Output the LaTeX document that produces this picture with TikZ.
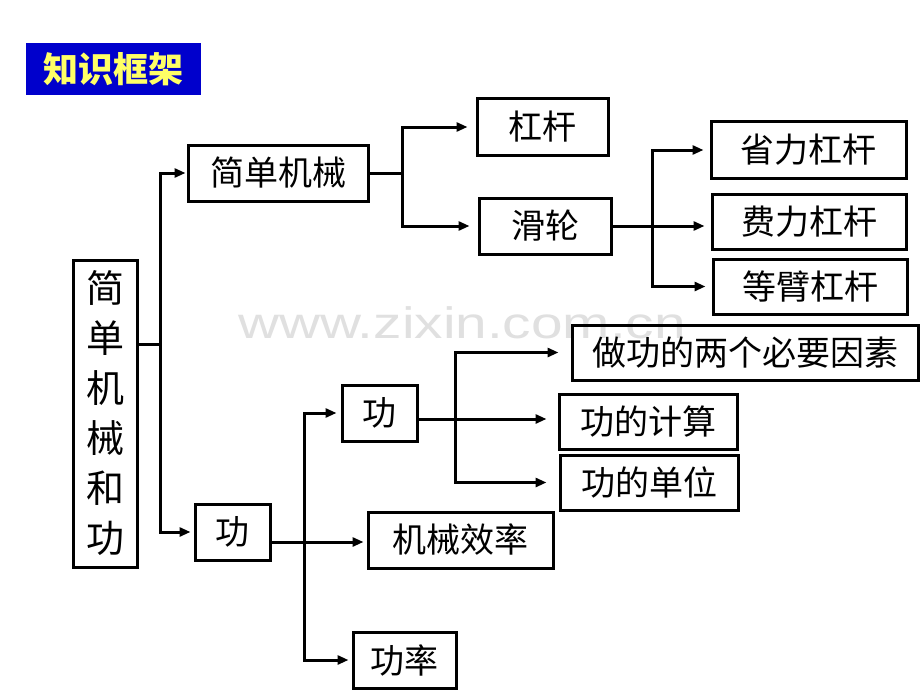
\documentclass[tikz,border=0pt]{standalone}
\usepackage{fontspec}
\setmainfont{Liberation Sans}
\newfontfamily\cjk{Noto Sans CJK SC}
\usetikzlibrary{arrows.meta,calc}
\definecolor{titleblue}{RGB}{0,0,204}
\definecolor{titleyellow}{RGB}{255,255,102}
\definecolor{wmgray}{RGB}{224,224,224}
\begin{document}
\begin{tikzpicture}[x=1pt,y=-1pt,
  box/.style={draw=black,line width=3pt,rectangle,inner sep=0pt,minimum height=56pt,
    font=\cjk\fontsize{34}{34}\selectfont,text=black},
  conn/.style={line width=3pt},
  arr/.style={conn,-{Triangle[length=11pt,width=9pt]}},
]
\useasboundingbox (0,0) rectangle (920,690);
\fill[white] (0,0) rectangle (920,690);

% watermark
\node[anchor=base,font=\fontsize{44}{44}\selectfont,text=wmgray,xscale=1.29,transform shape,inner sep=0pt] (wm) at (462,338) {www.zixin.com.cn};

% title
\node[fill=titleblue,minimum width=175pt,minimum height=52pt,inner sep=0pt,
  font=\cjk\bfseries\fontsize{35}{35}\selectfont,text=titleyellow] (title) at (113,69) {知识框架};

% nodes
\node[box,minimum width=64pt,minimum height=307pt,align=center,
  font=\cjk\fontsize{38}{50}\selectfont] (main) at (105,413.5) {简\\单\\机\\械\\和\\功};
\node[box,minimum width=180pt] (jdjx) at (278,173) {简单机械};
\node[box,minimum width=131pt] (gg) at (542.5,127) {杠杆};
\node[box,minimum width=132pt] (hl) at (545,226) {滑轮};
\node[box,minimum width=195pt] (slgg) at (808.5,150) {省力杠杆};
\node[box,minimum width=194pt,minimum height=55pt] (flgg) at (809,221.5) {费力杠杆};
\node[box,minimum width=194pt,minimum height=55pt] (dbgg) at (810,286.5) {等臂杠杆};
\node[box,minimum width=75pt] (gong2) at (379.5,413) {功};
\node[box,minimum width=75pt] (gong1) at (232.5,532) {功};
\node[box,minimum width=185pt] (jxxl) at (460.5,540) {机械效率};
\node[box,minimum width=103pt] (gl) at (404.5,660) {功率};
\node[box,minimum width=346pt,minimum height=55pt] (zg) at (745,352.5) {做功的两个必要因素};
\node[box,minimum width=178pt,minimum height=55pt] (gdjs) at (648,421.5) {功的计算};
\node[box,minimum width=178pt,minimum height=55pt] (gddw) at (649,482.5) {功的单位};

% connectors
\coordinate (j0) at (160,344);
\draw[conn] (main.east |- j0) -- (j0);
\draw[arr,shorten >=1pt] (j0) |- (jdjx.west);
\draw[arr,shorten >=3pt] (j0) |- (gong1.west);

\coordinate (j1) at (402,173);
\draw[conn] (jdjx.east) -- (j1);
\draw[arr,shorten >=8pt] (j1) |- (gg.west);
\draw[arr,shorten >=8pt] (j1) |- (hl.west);

\coordinate (j2) at (652,226);
\draw[conn] (hl.east) -- (j2);
\draw[arr,shorten >=6pt] (j2) |- (slgg.west);
\draw[arr,shorten >=6pt] (j2) -- (j2 -| flgg.west);
\draw[arr,shorten >=6pt] (j2) |- (dbgg.west);

\coordinate (j3) at (304,542);
\draw[conn] (gong1.east |- j3) -- (j3);
\draw[arr,shorten >=3pt] (j3) -- (j3 -| jxxl.west);
\draw[arr,shorten >=4pt] (j3) |- (gong2.west);
\draw[arr,shorten >=3pt] (j3) |- (gl.west);

\coordinate (j4) at (455,419);
\draw[conn] (gong2.east |- j4) -- (j4);
\draw[arr,shorten >=11pt] (j4) -- (j4 -| gdjs.west);
\draw[arr,shorten >=12pt] (j4) |- (zg.west);
\draw[arr,shorten >=12pt] (j4) |- (gddw.west);
\end{tikzpicture}
\end{document}
